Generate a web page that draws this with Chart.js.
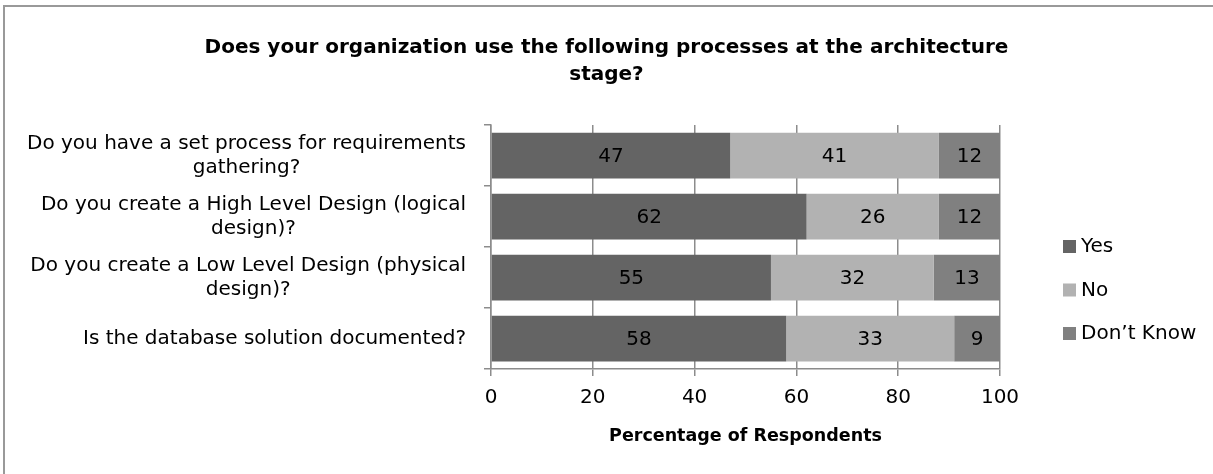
<!DOCTYPE html>
<html>
<head>
<meta charset="utf-8">
<script src="https://cdn.jsdelivr.net/npm/chart.js@4"></script>
<style>
    html, body { margin: 0; padding: 0; background: #fff; overflow: hidden; }
    #wrap { position: relative; width: 1213px; height: 474px; }
    #frame { position: absolute; left: 3px; top: 5px; width: 1400px; height: 600px;
             border-top: 2px solid #999; border-left: 2px solid #999; pointer-events: none; }
</style>
</head>
<body>
<div id="wrap">
    <canvas id="chart" width="1213" height="474"></canvas>
    <div id="frame"></div>
</div>
<script>
// Données du graphique
const categories = [
    ['Do you have a set process for requirements', 'gathering?'],
    ['Do you create a High Level Design (logical', 'design)?'],
    ['Do you create a Low Level Design (physical', 'design)?'],
    ['Is the database solution documented?'],
];
const seriesNames = ['Yes', 'No', 'Don\u2019t Know'];
const yesValues = [47, 62, 55, 58];
const noValues = [41, 26, 32, 33];
const dontKnowValues = [12, 12, 13, 9];
const xTicks = [0, 20, 40, 60, 80, 100];

const FONT = 'DejaVu Sans';
const GRID = '#8c8c8c';

// Labels de l'axe Y : bloc aligné à droite, lignes centrées
const yLabelPlugin = {
    id: 'yLabels',
    afterDraw(chart) {
        const ctx = chart.ctx;
        const yScale = chart.scales.y;
        const rightEdge = 466;
        const lineH = 24;
        ctx.save();
        ctx.font = '20px "' + FONT + '"';
        ctx.fillStyle = '#000';
        ctx.textAlign = 'center';
        ctx.textBaseline = 'middle';
        categories.forEach((lines, i) => {
            const widest = Math.max(...lines.map(l => ctx.measureText(l).width));
            const cx = rightEdge - widest / 2;
            const cy = yScale.getPixelForValue(i);
            const top = cy - (lines.length - 1) * lineH / 2;
            lines.forEach((l, j) => ctx.fillText(l, cx, top + j * lineH));
        });
        ctx.restore();
    }
};

// Valeurs au centre de chaque segment
const valueLabelPlugin = {
    id: 'valueLabels',
    afterDatasetsDraw(chart) {
        const ctx = chart.ctx;
        ctx.save();
        ctx.font = '20px "' + FONT + '"';
        ctx.fillStyle = '#000';
        ctx.textAlign = 'center';
        ctx.textBaseline = 'middle';
        chart.data.datasets.forEach((ds, di) => {
            const meta = chart.getDatasetMeta(di);
            meta.data.forEach((bar, i) => {
                ctx.fillText(String(ds.data[i]), (bar.x + bar.base) / 2, bar.y + 1);
            });
        });
        ctx.restore();
    }
};

// Légende à droite, dessinée à partir des datasets
const legendPlugin = {
    id: 'sideLegend',
    afterDraw(chart) {
        const ctx = chart.ctx;
        const x = 1063;
        const y0 = chart.chartArea.top + 121;
        const step = 43.5;
        ctx.save();
        ctx.font = '20px "' + FONT + '"';
        ctx.textAlign = 'left';
        ctx.textBaseline = 'middle';
        chart.data.datasets.forEach((ds, i) => {
            const y = y0 + i * step;
            ctx.fillStyle = ds.backgroundColor;
            ctx.fillRect(x, y - 6, 13, 13);
            ctx.fillStyle = '#000';
            ctx.fillText(ds.label, x + 18, y + 1);
        });
        ctx.restore();
    }
};

const ctx = document.getElementById('chart').getContext('2d');
new Chart(ctx, {
    type: 'bar',
    data: {
        labels: categories,
        datasets: [
            { label: seriesNames[0], data: yesValues, backgroundColor: '#646464' },
            { label: seriesNames[1], data: noValues, backgroundColor: '#b2b2b2' },
            { label: seriesNames[2], data: dontKnowValues, backgroundColor: '#808080' },
        ],
    },
    options: {
        indexAxis: 'y',
        responsive: false,
        animation: false,
        layout: { padding: 0 },
        datasets: { bar: { barPercentage: 0.75, categoryPercentage: 1 } },
        plugins: {
            title: {
                display: true,
                text: ['Does your organization use the following processes at the architecture', 'stage?'],
                color: '#000',
                font: { family: FONT, size: 20, weight: 'bold', lineHeight: 1.35 },
                padding: { top: 34, bottom: 37 },
            },
            legend: { display: false },
            tooltip: { enabled: false },
        },
        scales: {
            x: {
                stacked: true,
                min: 0,
                max: 100,
                afterBuildTicks: s => { s.ticks = xTicks.map(v => ({ value: v })); },
                afterFit: s => { s.height = 105; s.paddingRight = 213; },
                border: { color: GRID, width: 1.5 },
                grid: { color: GRID, lineWidth: 1.5, tickLength: 7 },
                ticks: { color: '#000', font: { family: FONT, size: 20 }, padding: 10, maxRotation: 0 },
                title: {
                    display: true,
                    text: 'Percentage of Respondents',
                    color: '#000',
                    font: { family: FONT, size: 17.5, weight: 'bold' },
                    padding: { top: 10, bottom: 27 },
                },
            },
            y: {
                stacked: true,
                afterFit: s => { s.width = 491; },
                border: { color: GRID, width: 1.5 },
                grid: { color: GRID, lineWidth: 1.5, tickLength: 7, drawOnChartArea: false, offset: true },
                ticks: { color: 'rgba(0,0,0,0)', font: { family: FONT, size: 12 } },
            },
        },
    },
    plugins: [yLabelPlugin, valueLabelPlugin, legendPlugin],
});
</script>
</body>
</html>
